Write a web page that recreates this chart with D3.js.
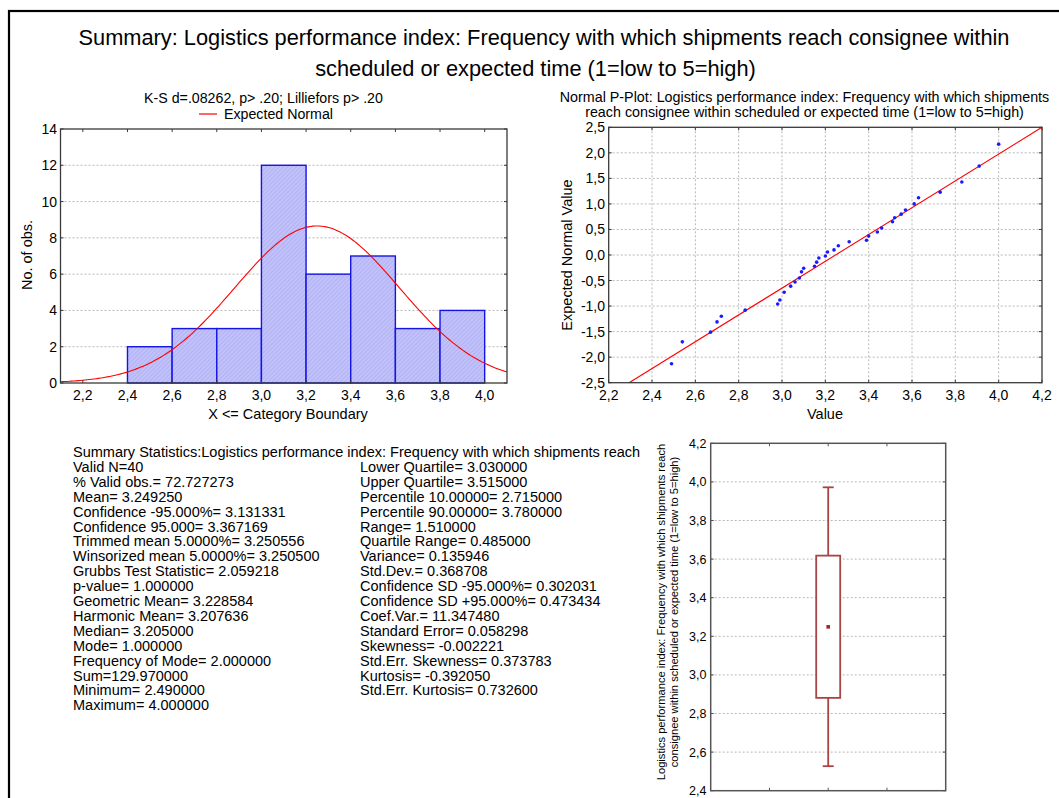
<!DOCTYPE html>
<html><head><meta charset="utf-8">
<script src="https://cdn.jsdelivr.net/npm/d3@7"></script>
<style>
body{margin:0;background:#fff}
svg{display:block}
text{font-family:"Liberation Sans",Arial,Helvetica,sans-serif;fill:#000}
</style>
</head><body>
<svg id="c" width="1059" height="798"></svg>
<script>
// ---------------- data ----------------
const titleLines = [
  "Summary: Logistics performance index: Frequency with which shipments reach consignee within",
  "scheduled or expected time (1=low to 5=high)"
];
const histSubtitle = "K-S d=.08262, p> .20; Lilliefors p> .20";
const legendLabel = "Expected Normal";
const histXLabel = "X <= Category Boundary";
const histYLabel = "No. of obs.";
const binEdges = [2.4, 2.6, 2.8, 3.0, 3.2, 3.4, 3.6, 3.8, 4.0];
const binCounts = [2, 3, 3, 12, 6, 7, 3, 4];
const histXTicks = [2.2, 2.4, 2.6, 2.8, 3.0, 3.2, 3.4, 3.6, 3.8, 4.0];
const histYTicks = [0, 2, 4, 6, 8, 10, 12, 14];
const nValid = 40;
const meanValue = 3.249250;
const sdValue = 0.368708;
const binWidth = 0.2;

const ppTitle = [
  "Normal P-Plot: Logistics performance index: Frequency with which shipments",
  "reach consignee within scheduled or expected time (1=low to 5=high)"
];
const ppXLabel = "Value";
const ppYLabel = "Expected Normal Value";
const ppValues = [2.49, 2.54, 2.67, 2.70, 2.72, 2.83, 2.98, 2.99, 3.01, 3.04,
  3.06, 3.08, 3.09, 3.10, 3.15, 3.16, 3.17, 3.20, 3.21, 3.24,
  3.26, 3.31, 3.39, 3.40, 3.44, 3.46, 3.51, 3.52, 3.55, 3.57,
  3.61, 3.63, 3.73, 3.83, 3.91, 4.00];
const ppExpected = [-2.13, -1.70, -1.51, -1.31, -1.20, -1.08, -0.96, -0.88, -0.73, -0.61,
  -0.53, -0.45, -0.33, -0.26, -0.22, -0.14, -0.06, -0.02, 0.06, 0.10,
  0.18, 0.26, 0.29, 0.37, 0.45, 0.53, 0.65, 0.73, 0.80, 0.88,
  1.00, 1.12, 1.23, 1.43, 1.74, 2.17];
const ppLineX = [2.294, 4.2];
const ppLineY = [-2.5, 2.5];
const ppXTicks = [2.2, 2.4, 2.6, 2.8, 3.0, 3.2, 3.4, 3.6, 3.8, 4.0, 4.2];
const ppYTicks = [-2.5, -2.0, -1.5, -1.0, -0.5, 0.0, 0.5, 1.0, 1.5, 2.0, 2.5];

const boxLabel = [
  "Logistics performance index: Frequency with which shipments reach",
  "consignee within scheduled or expected time (1=low to 5=high)"
];
const boxYTicks = [2.4, 2.6, 2.8, 3.0, 3.2, 3.4, 3.6, 3.8, 4.0, 4.2];
const boxMean = 3.249;
const boxLow = 2.881;      // mean - SD
const boxHigh = 3.618;     // mean + SD
const whiskerLow = 2.527;  // mean - 1.96*SD
const whiskerHigh = 3.972; // mean + 1.96*SD

const statsHeader = "Summary Statistics:Logistics performance index: Frequency with which shipments reach";
const statsLeft = [
  "Valid N=40",
  "% Valid obs.= 72.727273",
  "Mean= 3.249250",
  "Confidence -95.000%= 3.131331",
  "Confidence 95.000= 3.367169",
  "Trimmed mean 5.0000%= 3.250556",
  "Winsorized mean 5.0000%= 3.250500",
  "Grubbs Test Statistic= 2.059218",
  "p-value= 1.000000",
  "Geometric Mean= 3.228584",
  "Harmonic Mean= 3.207636",
  "Median= 3.205000",
  "Mode= 1.000000",
  "Frequency of Mode= 2.000000",
  "Sum=129.970000",
  "Minimum= 2.490000",
  "Maximum= 4.000000"
];
const statsRight = [
  "Lower Quartile= 3.030000",
  "Upper Quartile= 3.515000",
  "Percentile 10.00000= 2.715000",
  "Percentile 90.00000= 3.780000",
  "Range= 1.510000",
  "Quartile Range= 0.485000",
  "Variance= 0.135946",
  "Std.Dev.= 0.368708",
  "Confidence SD -95.000%= 0.302031",
  "Confidence SD +95.000%= 0.473434",
  "Coef.Var.= 11.347480",
  "Standard Error= 0.058298",
  "Skewness= -0.002221",
  "Std.Err. Skewness= 0.373783",
  "Kurtosis= -0.392050",
  "Std.Err. Kurtosis= 0.732600"
];

// ---------------- helpers ----------------
const svg = d3.select("#c");
const fmt1 = v => v.toFixed(1).replace(".", ",");
const FRAME = "#3a3a3a";
const GRID = "#b8b8b8";
const TICK_FS = 14;
const AXIS_FS = 14.5;

function fitSize(str, targetW, base) {
  const t = svg.append("text").attr("font-size", base).text(str);
  const w = t.node().getComputedTextLength();
  t.remove();
  return base * targetW / w;
}

// outer frame (clipped by the window on right/bottom)
svg.append("rect").attr("x", 9).attr("y", 11).attr("width", 1200).attr("height", 900)
  .attr("fill", "none").attr("stroke", "#000").attr("stroke-width", 2.2);

// title
const titleSize = fitSize(titleLines[1], 441, 20);
svg.selectAll("text.title").data(titleLines).join("text").attr("class", "title")
  .attr("x", (d, i) => i === 0 ? 544 : 535.5).attr("y", (d, i) => 44.5 + i * 31)
  .attr("text-anchor", "middle").attr("font-size", titleSize).text(d => d);

// ---------------- histogram ----------------
{
  const L = 60.5, R = 507, T = 129, B = 383;
  const x = d3.scaleLinear().domain([2.1, 4.1]).range([L, R]);
  const y = d3.scaleLinear().domain([0, 14]).range([B, T]);
  const g = svg.append("g");

  const defs = svg.append("defs");
  const pat = defs.append("pattern").attr("id", "hatch").attr("patternUnits", "userSpaceOnUse")
    .attr("width", 3).attr("height", 3).attr("patternTransform", "rotate(45)");
  pat.append("rect").attr("width", 3).attr("height", 3).attr("fill", "#c2c2fb");
  pat.append("line").attr("x1", 0).attr("y1", 0).attr("x2", 0).attr("y2", 3)
    .attr("stroke", "#a6a6f2").attr("stroke-width", 1.2);

  // gridlines
  g.selectAll("line.grid").data(histYTicks.filter(v => v > 0 && v < 14)).join("line")
    .attr("x1", L).attr("x2", R).attr("y1", d => y(d)).attr("y2", d => y(d))
    .attr("stroke", GRID).attr("stroke-dasharray", "2,2");

  // bars
  g.selectAll("rect.bar").data(binCounts).join("rect").attr("class", "bar")
    .attr("x", (d, i) => x(binEdges[i])).attr("width", (d, i) => x(binEdges[i + 1]) - x(binEdges[i]))
    .attr("y", d => y(d)).attr("height", d => y(0) - y(d))
    .attr("fill", "url(#hatch)").attr("stroke", "#1414e6").attr("stroke-width", 1.4);

  // expected normal curve (from the stated mean, SD and N)
  const pts = d3.range(2.1, 4.1001, 0.01).map(v => [v,
    nValid * binWidth * Math.exp(-0.5 * ((v - meanValue) / sdValue) ** 2) / (sdValue * Math.sqrt(2 * Math.PI))]);
  g.append("path").datum(pts).attr("fill", "none").attr("stroke", "#ff0000").attr("stroke-width", 1.1)
    .attr("d", d3.line().x(d => x(d[0])).y(d => y(d[1])));

  // frame
  g.append("rect").attr("x", L).attr("y", T).attr("width", R - L).attr("height", B - T)
    .attr("fill", "none").attr("stroke", FRAME).attr("stroke-width", 1.3);

  // ticks
  histXTicks.forEach(v => {
    g.append("line").attr("x1", x(v)).attr("x2", x(v)).attr("y1", B).attr("y2", B - 3).attr("stroke", FRAME);
    g.append("line").attr("x1", x(v)).attr("x2", x(v)).attr("y1", T).attr("y2", T + 3).attr("stroke", FRAME);
  });
  histYTicks.forEach(v => {
    g.append("line").attr("x1", L).attr("x2", L + 3).attr("y1", y(v)).attr("y2", y(v)).attr("stroke", FRAME);
    g.append("line").attr("x1", R).attr("x2", R - 3).attr("y1", y(v)).attr("y2", y(v)).attr("stroke", FRAME);
  });

  g.selectAll("text.xt").data(histXTicks).join("text")
    .attr("x", d => x(d)).attr("y", 400).attr("text-anchor", "middle").attr("font-size", TICK_FS).text(fmt1);
  g.selectAll("text.yt").data(histYTicks).join("text")
    .attr("x", 57).attr("y", d => y(d) + 5).attr("text-anchor", "end").attr("font-size", TICK_FS).text(d => d);

  g.append("text").attr("x", 288).attr("y", 419).attr("text-anchor", "middle").attr("font-size", AXIS_FS).text(histXLabel);
  g.append("text").attr("transform", "translate(32,255) rotate(-90)").attr("text-anchor", "middle")
    .attr("font-size", AXIS_FS).text(histYLabel);

  const subSize = fitSize(histSubtitle, 239, 13);
  g.append("text").attr("x", 263.5).attr("y", 103).attr("text-anchor", "middle").attr("font-size", subSize).text(histSubtitle);
  g.append("line").attr("x1", 199).attr("x2", 217).attr("y1", 114).attr("y2", 114).attr("stroke", "#ff0000").attr("stroke-width", 1.2);
  g.append("text").attr("x", 224).attr("y", 119).attr("font-size", subSize).text(legendLabel);
}

// ---------------- normal P-plot ----------------
{
  const L = 608.7, R = 1042, T = 127.3, B = 382.7;
  const x = d3.scaleLinear().domain([2.2, 4.2]).range([L, R]);
  const y = d3.scaleLinear().domain([-2.5, 2.5]).range([B, T]);
  const g = svg.append("g");

  g.selectAll("line.gx").data(ppXTicks.slice(1, -1)).join("line")
    .attr("x1", d => x(d)).attr("x2", d => x(d)).attr("y1", T).attr("y2", B)
    .attr("stroke", GRID).attr("stroke-dasharray", "2,2");
  g.selectAll("line.gy").data(ppYTicks.slice(1, -1)).join("line")
    .attr("x1", L).attr("x2", R).attr("y1", d => y(d)).attr("y2", d => y(d))
    .attr("stroke", GRID).attr("stroke-dasharray", "2,2");

  g.append("line").attr("x1", x(ppLineX[0])).attr("y1", y(ppLineY[0]))
    .attr("x2", x(ppLineX[1])).attr("y2", y(ppLineY[1])).attr("stroke", "#ff0000").attr("stroke-width", 1.1);

  g.selectAll("circle").data(ppValues).join("circle")
    .attr("cx", d => x(d)).attr("cy", (d, i) => y(ppExpected[i])).attr("r", 1.8).attr("fill", "#1a1aff");

  g.append("rect").attr("x", L).attr("y", T).attr("width", R - L).attr("height", B - T)
    .attr("fill", "none").attr("stroke", FRAME).attr("stroke-width", 1.3);
  ppXTicks.forEach(v => {
    g.append("line").attr("x1", x(v)).attr("x2", x(v)).attr("y1", B).attr("y2", B - 3).attr("stroke", FRAME);
    g.append("line").attr("x1", x(v)).attr("x2", x(v)).attr("y1", T).attr("y2", T + 3).attr("stroke", FRAME);
  });
  ppYTicks.forEach(v => {
    g.append("line").attr("x1", L).attr("x2", L + 3).attr("y1", y(v)).attr("y2", y(v)).attr("stroke", FRAME);
    g.append("line").attr("x1", R).attr("x2", R - 3).attr("y1", y(v)).attr("y2", y(v)).attr("stroke", FRAME);
  });

  g.selectAll("text.xt").data(ppXTicks).join("text")
    .attr("x", d => x(d)).attr("y", 400).attr("text-anchor", "middle").attr("font-size", TICK_FS).text(fmt1);
  g.selectAll("text.yt").data(ppYTicks).join("text")
    .attr("x", 605).attr("y", d => y(d) + 5).attr("text-anchor", "end").attr("font-size", TICK_FS).text(fmt1);

  g.append("text").attr("x", 825).attr("y", 419).attr("text-anchor", "middle").attr("font-size", AXIS_FS).text(ppXLabel);
  g.append("text").attr("transform", "translate(571.5,255) rotate(-90)").attr("text-anchor", "middle")
    .attr("font-size", AXIS_FS).text(ppYLabel);

  const ts = fitSize(ppTitle[0], 490, 13);
  g.append("text").attr("x", 804.5).attr("y", 102).attr("text-anchor", "middle").attr("font-size", ts).text(ppTitle[0]);
  g.append("text").attr("x", 804.5).attr("y", 116.5).attr("text-anchor", "middle").attr("font-size", ts).text(ppTitle[1]);
}

// ---------------- summary statistics text ----------------
{
  const fs = fitSize(statsHeader, 568, 13);
  const top = 457, step = 14.9;
  svg.append("text").attr("x", 73).attr("y", top).attr("font-size", fs).text(statsHeader);
  svg.selectAll("text.sl").data(statsLeft).join("text").attr("class", "sl")
    .attr("x", 73).attr("y", (d, i) => top + (i + 1) * step).attr("font-size", fs).text(d => d);
  svg.selectAll("text.sr").data(statsRight).join("text").attr("class", "sr")
    .attr("x", 360).attr("y", (d, i) => top + (i + 1) * step).attr("font-size", fs).text(d => d);
}

// ---------------- box plot ----------------
{
  const L = 710.7, R = 945.7, T = 443.3, B = 790.7;
  const x = d3.scaleLinear().domain([0, 4]).range([L, R]);
  const y = d3.scaleLinear().domain([2.4, 4.2]).range([B, T]);
  const g = svg.append("g");
  const BOX = "#a84444";

  g.selectAll("line.gy").data(boxYTicks.slice(1, -1)).join("line")
    .attr("x1", L).attr("x2", R).attr("y1", d => y(d)).attr("y2", d => y(d))
    .attr("stroke", GRID).attr("stroke-dasharray", "2,2");

  const cx = x(2);
  g.append("line").attr("x1", cx).attr("x2", cx).attr("y1", y(whiskerHigh)).attr("y2", y(boxHigh)).attr("stroke", BOX).attr("stroke-width", 1.8);
  g.append("line").attr("x1", cx).attr("x2", cx).attr("y1", y(boxLow)).attr("y2", y(whiskerLow)).attr("stroke", BOX).attr("stroke-width", 1.8);
  [whiskerHigh, whiskerLow].forEach(v =>
    g.append("line").attr("x1", cx - 5.5).attr("x2", cx + 5.5).attr("y1", y(v)).attr("y2", y(v)).attr("stroke", BOX).attr("stroke-width", 1.8));
  g.append("rect").attr("x", cx - 12).attr("width", 24).attr("y", y(boxHigh)).attr("height", y(boxLow) - y(boxHigh))
    .attr("fill", "#fff").attr("stroke", BOX).attr("stroke-width", 1.8);
  g.append("rect").attr("x", cx - 1.8).attr("y", y(boxMean) - 1.8).attr("width", 3.6).attr("height", 3.6).attr("fill", "#a02828");

  g.append("rect").attr("x", L).attr("y", T).attr("width", R - L).attr("height", B - T)
    .attr("fill", "none").attr("stroke", "#555").attr("stroke-width", 1.5);
  [1, 2, 3].forEach(v => {
    g.append("line").attr("x1", x(v)).attr("x2", x(v)).attr("y1", B).attr("y2", B - 3).attr("stroke", "#555");
    g.append("line").attr("x1", x(v)).attr("x2", x(v)).attr("y1", T).attr("y2", T + 3).attr("stroke", "#555");
  });
  boxYTicks.forEach(v => {
    g.append("line").attr("x1", L).attr("x2", L + 3).attr("y1", y(v)).attr("y2", y(v)).attr("stroke", "#555");
    g.append("line").attr("x1", R).attr("x2", R - 3).attr("y1", y(v)).attr("y2", y(v)).attr("stroke", "#555");
  });
  g.selectAll("text.yt").data(boxYTicks).join("text")
    .attr("x", 706.5).attr("y", d => y(d) + 4.5).attr("text-anchor", "end").attr("font-size", 12.5).text(fmt1);

  const ls = fitSize(boxLabel[0], 337, 10);
  g.append("text").attr("transform", "translate(664.5,612) rotate(-90)").attr("text-anchor", "middle")
    .attr("font-size", ls).text(boxLabel[0]);
  g.append("text").attr("transform", "translate(678,612) rotate(-90)").attr("text-anchor", "middle")
    .attr("font-size", ls).text(boxLabel[1]);
}
</script>
</body></html>
